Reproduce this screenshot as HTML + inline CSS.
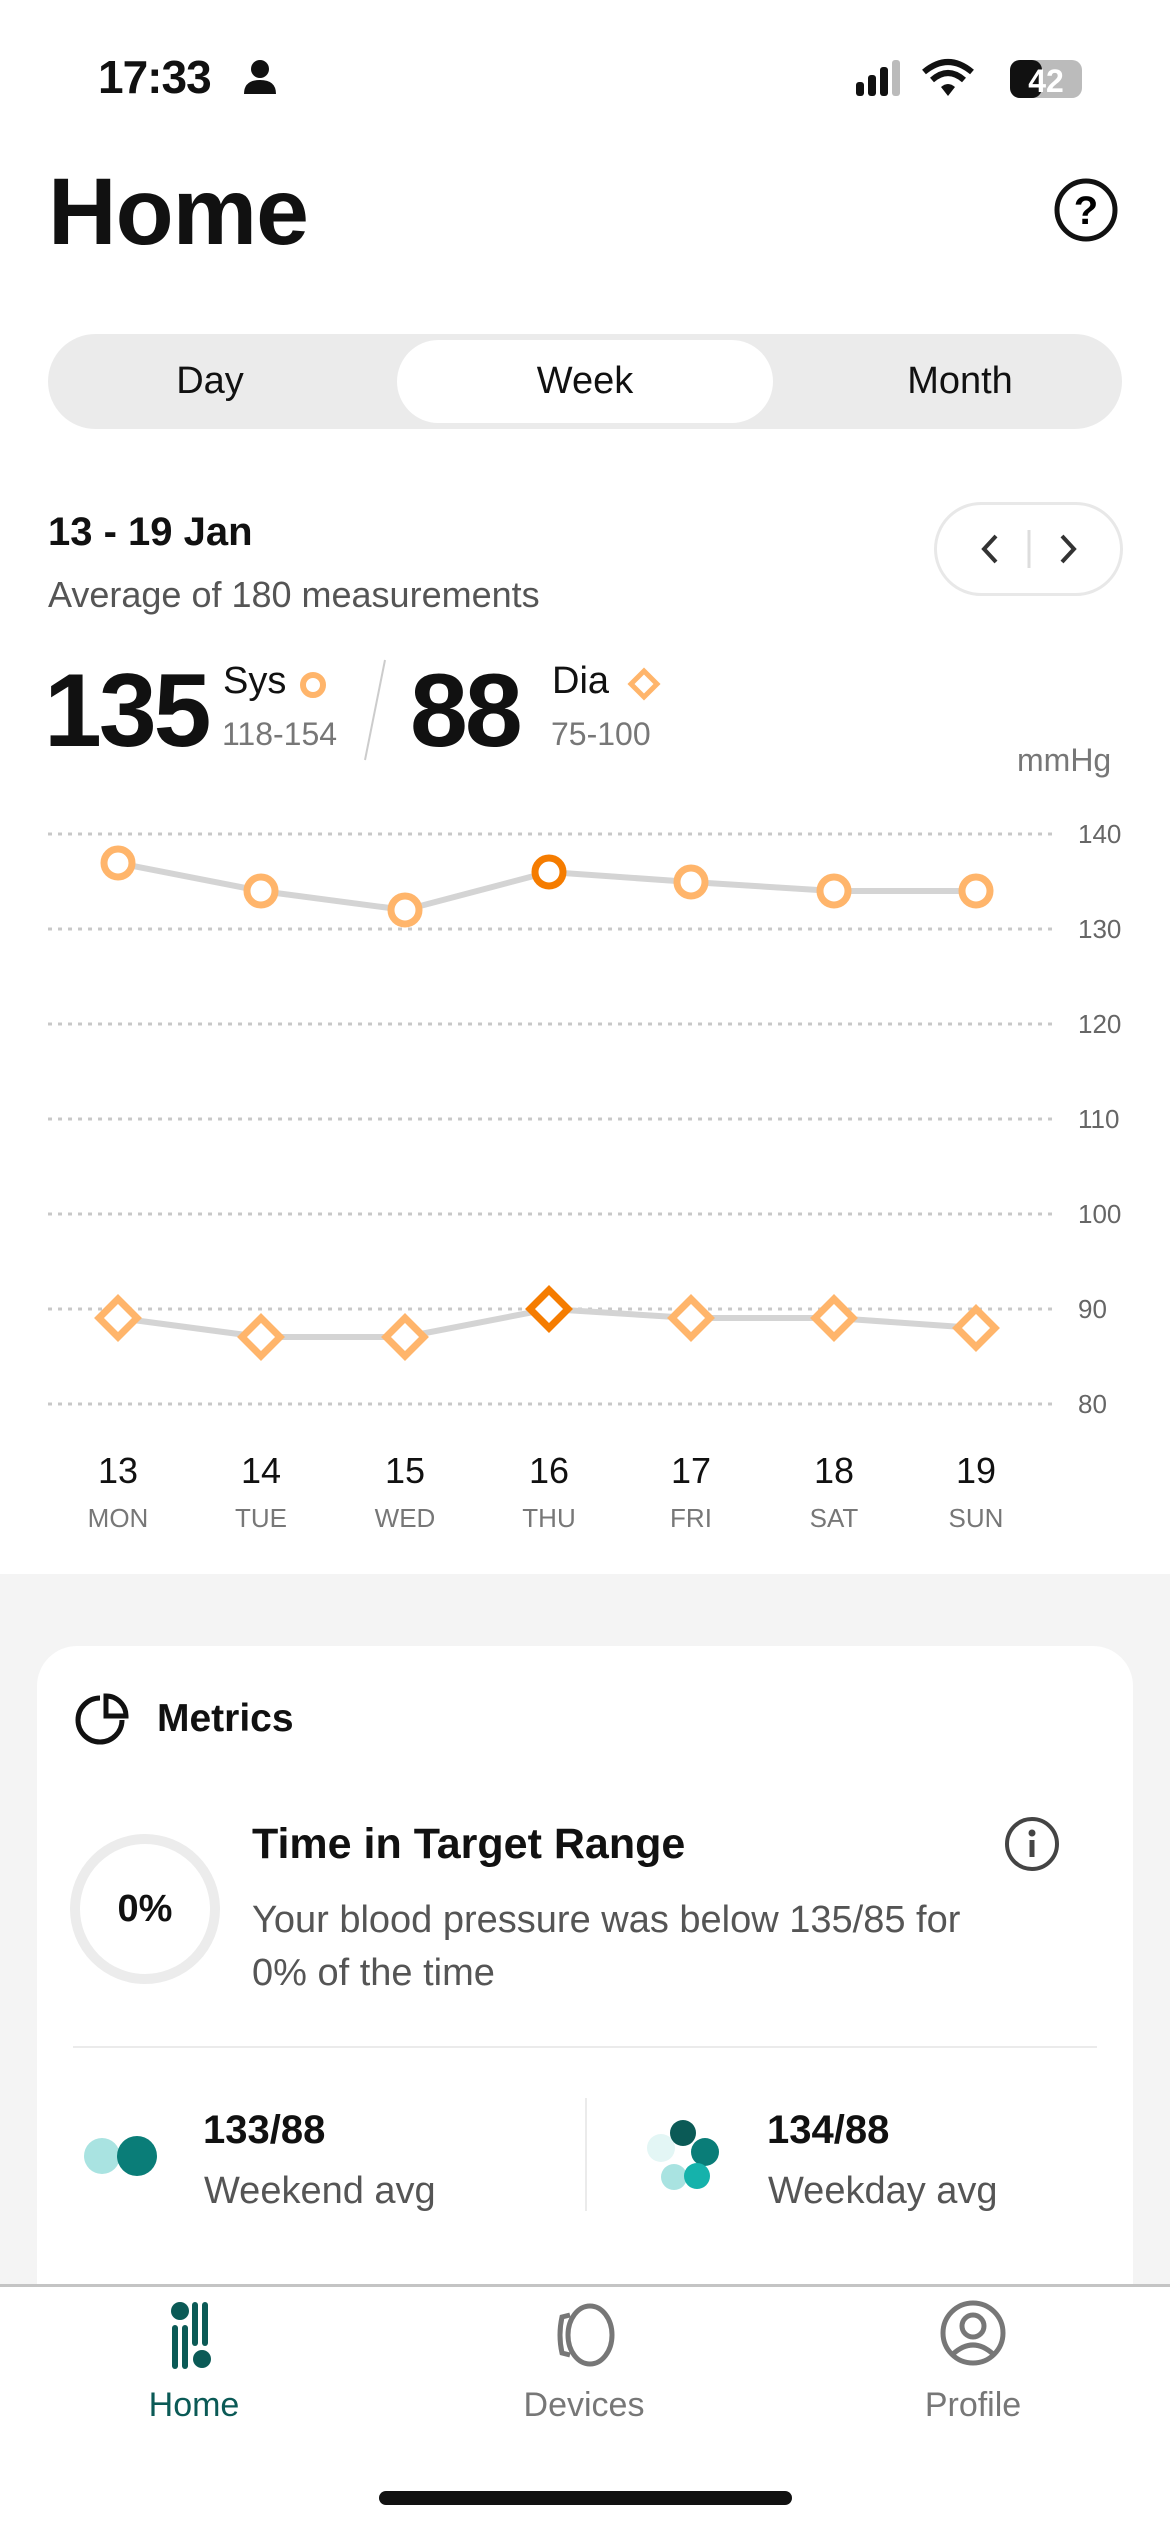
<!DOCTYPE html>
<html><head><meta charset="utf-8">
<style>
*{margin:0;padding:0;box-sizing:border-box}
body{width:1170px;height:2532px;background:#fff;font-family:"Liberation Sans",sans-serif;position:relative;overflow:hidden;color:#111}
.a{position:absolute;white-space:nowrap}
</style></head><body>
<!-- status bar -->
<div class="a" style="left:98px;top:50px;font-size:46px;font-weight:600;letter-spacing:-1px">17:33</div>
<svg class="a" style="left:240px;top:58px" width="40" height="40"><circle cx="20" cy="11" r="9" fill="#111"/><path d="M4 36 Q4 22 20 22 Q36 22 36 36Z" fill="#111"/></svg>
<svg class="a" style="left:852px;top:56px" width="240" height="44">
<rect x="4" y="26" width="8" height="14" rx="3" fill="#111"/><rect x="16" y="19" width="8" height="21" rx="3" fill="#111"/><rect x="28" y="11" width="8" height="29" rx="3" fill="#111"/><rect x="40" y="4" width="8" height="36" rx="3" fill="#bbb"/>
<path d="M72 16 Q96 -4 120 16" stroke="#111" stroke-width="6" fill="none"/><path d="M80 24 Q96 10 112 24" stroke="#111" stroke-width="6" fill="none"/><path d="M89 31 L96 40 L103 31 Q96 25 89 31Z" fill="#111"/>
<rect x="158" y="4" width="72" height="38" rx="10" fill="#bbb"/><rect x="158" y="4" width="32" height="38" rx="10" fill="#111"/>
<text x="194" y="36" font-size="32" font-weight="700" text-anchor="middle" fill="#fff" font-family="Liberation Sans">42</text>
</svg>
<!-- title -->
<div class="a" style="left:48px;top:158px;font-size:95px;font-weight:700;letter-spacing:-1px">Home</div>
<svg class="a" style="left:1052px;top:176px" width="68" height="68"><circle cx="34" cy="34" r="29" stroke="#111" stroke-width="5" fill="none"/><text x="34" y="48" font-size="40" font-weight="700" text-anchor="middle" font-family="Liberation Sans">?</text></svg>
<!-- segmented -->
<div class="a" style="left:48px;top:334px;width:1074px;height:95px;border-radius:48px;background:#ebebeb"></div>
<div class="a" style="left:397px;top:340px;width:376px;height:83px;border-radius:42px;background:#fff"></div>
<div class="a" style="left:0;top:360px;width:420px;text-align:center;font-size:38px">Day</div>
<div class="a" style="left:397px;top:360px;width:376px;text-align:center;font-size:38px">Week</div>
<div class="a" style="left:790px;top:360px;width:340px;text-align:center;font-size:38px">Month</div>
<!-- date -->
<div class="a" style="left:48px;top:510px;font-size:40px;font-weight:600">13 - 19 Jan</div>
<div class="a" style="left:48px;top:574px;font-size:36px;color:#555">Average of 180 measurements</div>
<div class="a" style="left:934px;top:502px;width:189px;height:94px;border-radius:47px;border:3px solid #e8e8e8"></div>
<svg class="a" style="left:934px;top:502px" width="189" height="94"><path d="M62 34 L50 47 L62 60" stroke="#333" stroke-width="4" fill="none"/><line x1="95" y1="28" x2="95" y2="66" stroke="#ddd" stroke-width="3"/><path d="M128 34 L140 47 L128 60" stroke="#333" stroke-width="4" fill="none"/></svg>
<!-- values -->
<div class="a" style="left:44px;top:652px;font-size:104px;font-weight:700;letter-spacing:-3px">135</div>
<div class="a" style="left:223px;top:660px;font-size:38px">Sys</div>
<svg class="a" style="left:296px;top:668px" width="34" height="34"><circle cx="17" cy="17" r="10" stroke="#ffb56b" stroke-width="6" fill="#fff"/></svg>
<div class="a" style="left:222px;top:716px;font-size:32px;color:#777">118-154</div>
<svg class="a" style="left:355px;top:655px" width="40" height="110"><line x1="30" y1="5" x2="10" y2="105" stroke="#ccc" stroke-width="2"/></svg>
<div class="a" style="left:410px;top:652px;font-size:104px;font-weight:700;letter-spacing:-3px">88</div>
<div class="a" style="left:552px;top:660px;font-size:38px">Dia</div>
<svg class="a" style="left:626px;top:666px" width="36" height="36"><path d="M18 5 L31 18 L18 31 L5 18Z" stroke="#ffb56b" stroke-width="5" fill="#fff"/></svg>
<div class="a" style="left:551px;top:716px;font-size:32px;color:#777">75-100</div>
<div class="a" style="left:1017px;top:742px;font-size:32px;color:#777">mmHg</div>
<!-- chart -->
<svg class="a" style="left:0;top:800px" width="1170" height="760" font-family="Liberation Sans">
<g stroke="#c8c8c8" stroke-width="3" stroke-dasharray="4 6">
<line x1="48" y1="34" x2="1052" y2="34"/><line x1="48" y1="129" x2="1052" y2="129"/><line x1="48" y1="224" x2="1052" y2="224"/><line x1="48" y1="319" x2="1052" y2="319"/><line x1="48" y1="414" x2="1052" y2="414"/><line x1="48" y1="509" x2="1052" y2="509"/><line x1="48" y1="604" x2="1052" y2="604"/>
</g>
<g font-size="26" fill="#666">
<text x="1078" y="43">140</text><text x="1078" y="138">130</text><text x="1078" y="233">120</text><text x="1078" y="328">110</text><text x="1078" y="423">100</text><text x="1078" y="518">90</text><text x="1078" y="613">80</text>
</g>
<polyline points="118,63 261,91 405,110 549,72 691,82 834,91 976,91" stroke="#d4d4d4" stroke-width="6" fill="none"/>
<polyline points="118,518 261,537 405,537 549,509 691,518 834,518 976,528" stroke="#d4d4d4" stroke-width="6" fill="none"/>
<g fill="#fff" stroke="#ffb56b" stroke-width="7">
<circle cx="118" cy="63" r="14"/><circle cx="261" cy="91" r="14"/><circle cx="405" cy="110" r="14"/><circle cx="549" cy="72" r="14" stroke="#f57c00"/><circle cx="691" cy="82" r="14"/><circle cx="834" cy="91" r="14"/><circle cx="976" cy="91" r="14"/>
<path d="M118 499 L137 518 L118 537 L99 518Z"/><path d="M261 518 L280 537 L261 556 L242 537Z"/><path d="M405 518 L424 537 L405 556 L386 537Z"/><path d="M549 490 L568 509 L549 528 L530 509Z" stroke="#f57c00"/><path d="M691 499 L710 518 L691 537 L672 518Z"/><path d="M834 499 L853 518 L834 537 L815 518Z"/><path d="M976 509 L995 528 L976 547 L957 528Z"/>
</g>
<g font-size="36" text-anchor="middle" fill="#111"><text x="118" y="683">13</text><text x="261" y="683">14</text><text x="405" y="683">15</text><text x="549" y="683">16</text><text x="691" y="683">17</text><text x="834" y="683">18</text><text x="976" y="683">19</text></g>
<g font-size="26" text-anchor="middle" fill="#777"><text x="118" y="727">MON</text><text x="261" y="727">TUE</text><text x="405" y="727">WED</text><text x="549" y="727">THU</text><text x="691" y="727">FRI</text><text x="834" y="727">SAT</text><text x="976" y="727">SUN</text></g>
</svg>
<!-- gray area -->
<div class="a" style="left:0;top:1574px;width:1170px;height:958px;background:#f4f4f4"></div>
<div class="a" style="left:37px;top:1646px;width:1096px;height:700px;border-radius:40px;background:#fff"></div>
<svg class="a" style="left:72px;top:1690px" width="60" height="60"><path d="M28 8 A22 22 0 1 0 50 30" stroke="#111" stroke-width="5" fill="none"/><path d="M34 6 L34 26 L54 26 A20 20 0 0 0 34 6Z" stroke="#111" stroke-width="5" fill="none"/></svg>
<div class="a" style="left:157px;top:1697px;font-size:39px;font-weight:600">Metrics</div>
<svg class="a" style="left:66px;top:1830px" width="158" height="158"><circle cx="79" cy="79" r="70" stroke="#ececec" stroke-width="10" fill="none"/></svg>
<div class="a" style="left:66px;top:1888px;width:158px;text-align:center;font-size:38px;font-weight:600">0%</div>
<div class="a" style="left:252px;top:1820px;font-size:43px;font-weight:600">Time in Target Range</div>
<svg class="a" style="left:1003px;top:1815px" width="58" height="58"><circle cx="29" cy="29" r="25" stroke="#444" stroke-width="4" fill="none"/><circle cx="29" cy="18" r="3.5" fill="#444"/><line x1="29" y1="25" x2="29" y2="42" stroke="#444" stroke-width="5"/></svg>
<div class="a" style="left:252px;top:1894px;font-size:38px;color:#555;line-height:53px">Your blood pressure was below 135/85 for<br>0% of the time</div>
<div class="a" style="left:73px;top:2046px;width:1024px;height:2px;background:#ebebeb"></div>
<div class="a" style="left:585px;top:2098px;width:2px;height:113px;background:#ebebeb"></div>
<svg class="a" style="left:78px;top:2130px" width="90" height="52"><circle cx="24" cy="26" r="18" fill="#a9e3e1"/><circle cx="59" cy="26" r="20" fill="#0a7d78"/></svg>
<div class="a" style="left:203px;top:2108px;font-size:40px;font-weight:600">133/88</div>
<div class="a" style="left:204px;top:2170px;font-size:38px;color:#555">Weekend avg</div>
<svg class="a" style="left:640px;top:2115px" width="90" height="90"><circle cx="21" cy="33" r="14" fill="#e3f6f5"/><circle cx="43" cy="18" r="13" fill="#0b5a56"/><circle cx="65" cy="37" r="14" fill="#0a7d78"/><circle cx="34" cy="62" r="13" fill="#a9e3e1"/><circle cx="57" cy="61" r="13" fill="#15b2ab"/></svg>
<div class="a" style="left:767px;top:2108px;font-size:40px;font-weight:600">134/88</div>
<div class="a" style="left:768px;top:2170px;font-size:38px;color:#555">Weekday avg</div>
<!-- tab bar -->
<div class="a" style="left:0;top:2284px;width:1170px;height:248px;background:#fff;border-top:3px solid #c4c4c4"></div>
<svg class="a" style="left:168px;top:2300px" width="60" height="70"><circle cx="12" cy="11" r="9" fill="#0b5a56"/><rect x="24" y="2" width="6" height="44" rx="3" fill="#0b5a56"/><rect x="34" y="2" width="6" height="44" rx="3" fill="#0b5a56"/><rect x="4" y="25" width="6" height="44" rx="3" fill="#0b5a56"/><rect x="14" y="25" width="6" height="44" rx="3" fill="#0b5a56"/><circle cx="34" cy="59" r="9" fill="#0b5a56"/></svg>
<div class="a" style="left:94px;top:2386px;width:200px;text-align:center;font-size:34px;color:#0b5a56">Home</div>
<svg class="a" style="left:550px;top:2300px" width="70" height="70"><ellipse cx="40" cy="35" rx="22" ry="29" stroke="#777" stroke-width="5" fill="none"/><path d="M20 15 L12 17 Q8 35 12 53 L20 55" stroke="#777" stroke-width="5" fill="none"/></svg>
<div class="a" style="left:484px;top:2386px;width:200px;text-align:center;font-size:34px;color:#777">Devices</div>
<svg class="a" style="left:938px;top:2298px" width="70" height="70"><circle cx="35" cy="35" r="30" stroke="#777" stroke-width="5" fill="none"/><circle cx="35" cy="28" r="11" stroke="#777" stroke-width="5" fill="none"/><path d="M15 56 Q35 38 55 56" stroke="#777" stroke-width="5" fill="none"/></svg>
<div class="a" style="left:873px;top:2386px;width:200px;text-align:center;font-size:34px;color:#777">Profile</div>
<div class="a" style="left:379px;top:2491px;width:413px;height:14px;border-radius:7px;background:#111"></div>
</body></html>
